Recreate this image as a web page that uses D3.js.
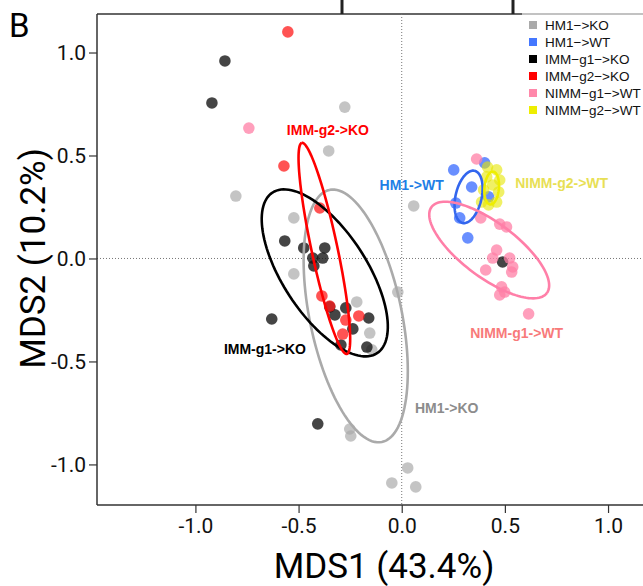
<!DOCTYPE html>
<html>
<head>
<meta charset="utf-8">
<script src="https://cdn.jsdelivr.net/npm/d3@7"></script>
<style>
  body { margin: 0; background: #fff; }
  svg { display: block; }
</style>
</head>
<body>
<div class="canva"></div>
<script>
// groups, in legend order
const groups = ["HM1->KO", "HM1->WT", "IMM-g1->KO", "IMM-g2->KO", "NIMM-g1->WT", "NIMM-g2->WT"];

// MDS coordinates per group
const hm1KO_x = [-0.276, -0.804, -0.354, 0.058, -0.523, -0.523, -0.019, -0.218, -0.155, -0.145, -0.252, -0.247, 0.029, -0.048, 0.068];
const hm1KO_y = [0.735, 0.303, 0.522, 0.255, 0.197, -0.075, -0.163, -0.211, -0.362, -0.444, -0.828, -0.862, -1.017, -1.090, -1.109];

const hm1WT_x = [0.252, 0.402, 0.339, 0.262, 0.281, 0.421, 0.320];
const hm1WT_y = [0.430, 0.464, 0.347, 0.269, 0.197, 0.299, 0.100];

const immg1_x = [-0.857, -0.920, -0.567, -0.475, -0.373, -0.431, -0.383, -0.426, -0.349, -0.324, -0.271, -0.160, -0.237, -0.295, -0.169, -0.630, -0.407, 0.489];
const immg1_y = [0.959, 0.755, 0.085, 0.051, 0.051, 0.002, 0.002, -0.036, -0.235, -0.274, -0.240, -0.289, -0.342, -0.420, -0.430, -0.294, -0.803, -0.017];

const immg2_x = [-0.552, -0.571, -0.397, -0.387, -0.349, -0.271, -0.208, -0.286];
const immg2_y = [1.100, 0.449, 0.245, -0.182, -0.231, -0.299, -0.279, -0.367];

const nimmg1_x = [-0.741, 0.363, 0.383, 0.475, 0.508, 0.460, 0.441, 0.523, 0.407, 0.533, 0.538, 0.484, 0.499, 0.475, 0.615];
const nimmg1_y = [0.633, 0.483, 0.197, 0.167, 0.153, 0.041, 0.002, 0.002, -0.056, -0.066, -0.041, -0.138, -0.163, -0.177, -0.269];

const nimmg2_x = [0.416, 0.460, 0.475, 0.470, 0.460, 0.421, 0.387, 0.397, 0.412, 0.441];
const nimmg2_y = [0.444, 0.430, 0.381, 0.323, 0.274, 0.260, 0.274, 0.333, 0.396, 0.357];

// ellipse per group: centre, semi axes, angle of major axis (deg), all in MDS units
const ellCx    = [-0.223, 0.324, -0.373, -0.375, 0.424, 0.436];
const ellCy    = [-0.279, 0.299, -0.070, 0.049, 0.041, 0.342];
const ellA     = [0.625, 0.130, 0.465, 0.524, 0.349, 0.080];
const ellB     = [0.223, 0.063, 0.204, 0.063, 0.133, 0.035];
const ellAngle = [101.7, 77, 123, 102, -36.8, 85];

// ellipse labels, anchored in MDS units
const labelX = [0.218, 0.048, -0.663, -0.358, 0.557, 0.775];
const labelY = [-0.726, 0.357, -0.439, 0.624, -0.362, 0.367];

const xTicks = [-1.0, -0.5, 0.0, 0.5, 1.0];
const yTicks = [-1.0, -0.5, 0.0, 0.5, 1.0];

const pointsX = [hm1KO_x, hm1WT_x, immg1_x, immg2_x, nimmg1_x, nimmg2_x];
const pointsY = [hm1KO_y, hm1WT_y, immg1_y, immg2_y, nimmg1_y, nimmg2_y];

const pointFill  = ["#a8a8a8", "#3f6fff", "#111111", "#ff1a1a", "#ff7fa6", "#e6e600"];
const pointAlpha = [0.68, 0.78, 0.78, 0.75, 0.75, 0.6];
const ellColor   = ["#aaaaaa", "#3366ee", "#000000", "#ff0000", "#ff7fa8", "#eeee00"];
const labelColor = ["#8c8c8c", "#1e7fe6", "#000000", "#ff0000", "#f87a7a", "#e8df55"];
const legendColor = ["#aaaaaa", "#4477ff", "#000000", "#ff0000", "#ff88aa", "#eeee00"];

const width = 643, height = 586;

const svg = d3.select(".canva").append("svg")
    .attr("width", width)
    .attr("height", height);

const x = d3.scaleLinear().domain([-1.477, 1.31]).range([97, 672]);
const y = d3.scaleLinear().domain([-1.197, 1.187]).range([505, 14]);

const tickFont = "Roboto, 'DejaVu Sans', sans-serif";

// panel letter
svg.append("text")
    .attr("x", 9).attr("y", 37)
    .attr("font-family", "Roboto, 'Liberation Sans', sans-serif")
    .attr("font-size", 33)
    .text("B");

// top frame line with ticks from the panel above
svg.append("line")
    .attr("x1", x.range()[0]).attr("x2", width)
    .attr("y1", y.range()[1]).attr("y2", y.range()[1])
    .attr("stroke", "#333").attr("stroke-width", 1.5);
svg.selectAll(".toptick")
    .data([342, 513])
    .enter().append("line")
    .attr("x1", d => d).attr("x2", d => d)
    .attr("y1", 0).attr("y2", y.range()[1])
    .attr("stroke", "#222").attr("stroke-width", 3);

// reference lines at zero
svg.append("line")
    .attr("x1", x(0)).attr("x2", x(0))
    .attr("y1", y.range()[1]).attr("y2", y.range()[0])
    .attr("stroke", "#777").attr("stroke-width", 1)
    .attr("stroke-dasharray", "1,2");
svg.append("line")
    .attr("x1", x.range()[0]).attr("x2", width)
    .attr("y1", y(0)).attr("y2", y(0))
    .attr("stroke", "#777").attr("stroke-width", 1)
    .attr("stroke-dasharray", "1,2");

// points
const plot = svg.append("g");
groups.forEach((g, i) => {
    plot.append("g").selectAll("circle")
        .data(pointsX[i].map((v, j) => ({x: v, y: pointsY[i][j]})))
        .enter().append("circle")
        .attr("cx", d => x(d.x))
        .attr("cy", d => y(d.y))
        .attr("r", 5.8)
        .attr("fill", pointFill[i])
        .attr("fill-opacity", pointAlpha[i]);
});

// ellipses
const line = d3.line().x(d => x(d[0])).y(d => y(d[1]));
groups.forEach((g, i) => {
    const th = ellAngle[i] * Math.PI / 180;
    const pts = d3.range(0, 121).map(k => {
        const t = k / 120 * 2 * Math.PI;
        const u = ellA[i] * Math.cos(t), v = ellB[i] * Math.sin(t);
        return [ellCx[i] + u * Math.cos(th) - v * Math.sin(th),
                ellCy[i] + u * Math.sin(th) + v * Math.cos(th)];
    });
    svg.append("path")
        .attr("d", line(pts))
        .attr("fill", "none")
        .attr("stroke", ellColor[i])
        .attr("stroke-width", 2.6);
});

// ellipse labels
svg.selectAll(".lab")
    .data(groups)
    .enter().append("text")
    .attr("x", (d, i) => x(labelX[i]))
    .attr("y", (d, i) => y(labelY[i]))
    .attr("dy", "0.35em")
    .attr("text-anchor", "middle")
    .attr("font-family", "'Liberation Sans', Arial, sans-serif")
    .attr("font-weight", "bold")
    .attr("font-size", 14)
    .attr("fill", (d, i) => labelColor[i])
    .text(d => d);

// axes
const fmt = d => d.toFixed(1);
const yAxis = svg.append("g")
    .attr("transform", `translate(${x.range()[0]},0)`)
    .call(d3.axisLeft(y).tickValues(yTicks).tickFormat(fmt).tickSize(8).tickPadding(3));
const xAxis = svg.append("g")
    .attr("transform", `translate(0,${y.range()[0]})`)
    .call(d3.axisBottom(x).tickValues(xTicks).tickFormat(fmt).tickSize(8).tickPadding(5));

[xAxis, yAxis].forEach(a => {
    a.select(".domain").attr("stroke", "#333").attr("stroke-width", 1.5);
    a.selectAll(".tick line").attr("stroke", "#333").attr("stroke-width", 1.2);
    a.selectAll(".tick text")
        .attr("font-family", tickFont)
        .attr("font-size", 21)
        .attr("fill", "#111");
});
yAxis.select(".domain").attr("d", `M0,${y.range()[0]}V${y.range()[1]}`);
xAxis.select(".domain").attr("d", `M${x.range()[0]},0H${x.range()[1]}`);

// axis titles
svg.append("text")
    .attr("x", 384).attr("y", 578)
    .attr("text-anchor", "middle")
    .attr("font-family", tickFont)
    .attr("font-size", 35)
    .text("MDS1 (43.4%)");
svg.append("text")
    .attr("transform", `translate(45,${y(0)}) rotate(-90)`)
    .attr("text-anchor", "middle")
    .attr("font-family", tickFont)
    .attr("font-size", 35)
    .text("MDS2 (10.2%)");

// legend
const legend = svg.append("g").attr("transform", "translate(522,13)");
legend.append("rect")
    .attr("width", 130).attr("height", 106)
    .attr("fill", "#fff").attr("fill-opacity", 0.6);
const rows = legend.selectAll(".row")
    .data(groups)
    .enter().append("g")
    .attr("transform", (d, i) => `translate(0,${12 + i * 17})`);
rows.append("rect")
    .attr("x", 7).attr("y", -4)
    .attr("width", 8).attr("height", 8)
    .attr("fill", (d, i) => legendColor[i]);
rows.append("text")
    .attr("x", 23).attr("dy", "0.36em")
    .attr("font-family", "'Liberation Sans', Arial, sans-serif")
    .attr("font-size", 13.5)
    .attr("fill", "#111")
    .text(d => d.replace(/-/g, "\u2212"));
</script>
</body>
</html>
